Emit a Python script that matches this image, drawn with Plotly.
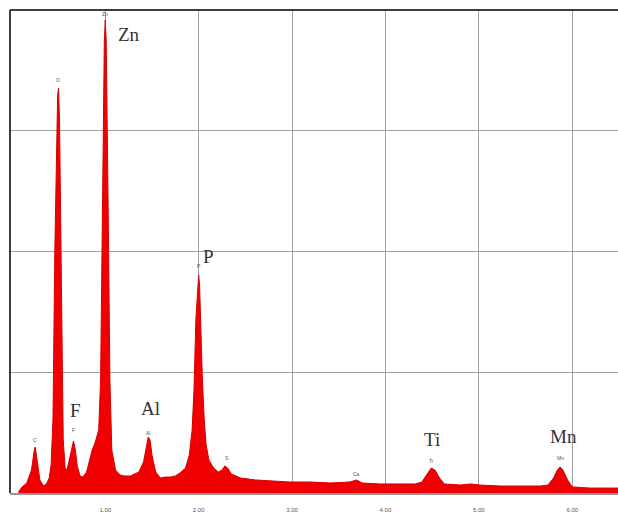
import plotly.graph_objects as go

# Spectrum outline (energy in keV, counts)
energy_kev = [0.07, 0.11, 0.16, 0.21, 0.24, 0.25, 0.27, 0.30, 0.34, 0.37,
              0.40, 0.42, 0.44, 0.46, 0.49, 0.50, 0.51, 0.53, 0.55, 0.57,
              0.59, 0.61, 0.64, 0.66, 0.68, 0.70, 0.73, 0.76, 0.80, 0.83,
              0.86, 0.89, 0.93, 0.95, 0.97, 0.99, 1.00, 1.01, 1.03, 1.05,
              1.07, 1.11, 1.16, 1.21, 1.27, 1.32, 1.36, 1.41, 1.44, 1.46,
              1.48, 1.50, 1.54, 1.59, 1.64, 1.70, 1.75, 1.80, 1.86, 1.90,
              1.93, 1.95, 1.97, 1.99, 2.00, 2.01, 2.02, 2.04, 2.06, 2.08,
              2.11, 2.16, 2.21, 2.25, 2.28, 2.31, 2.35, 2.45, 2.61, 2.77,
              2.98, 3.19, 3.41, 3.62, 3.69, 3.75, 3.94, 4.16, 4.32, 4.39,
              4.45, 4.49, 4.53, 4.58, 4.63, 4.80, 4.91, 5.01, 5.23, 5.44,
              5.66, 5.74, 5.80, 5.84, 5.87, 5.90, 5.95, 6.00, 6.19, 6.41, 6.49]
counts = [10, 50, 83, 190, 356, 381, 273, 108, 58, 75,
          124, 232, 604, 2012, 3295, 3353, 3088, 1598, 439, 207,
          190, 257, 373, 431, 356, 224, 141, 132, 174, 257,
          356, 414, 522, 936, 2426, 3751, 3916, 3751, 2426, 936,
          356, 190, 149, 141, 141, 157, 174, 257, 397, 464,
          439, 315, 174, 124, 132, 132, 141, 166, 207, 315,
          522, 853, 1432, 1722, 1805, 1722, 1432, 936, 604, 397,
          273, 207, 174, 190, 224, 207, 157, 124, 108, 99,
          91, 91, 83, 91, 108, 83, 75, 75, 75, 91,
          157, 207, 190, 124, 75, 66, 75, 66, 58, 58,
          58, 66, 124, 190, 215, 190, 108, 50, 41, 41, 41]

# Element labels (big) and their positions
big_labels = ["Zn", "P", "F", "Al", "Ti", "Mn"]
big_x = [1.25, 2.10, 0.68, 1.48, 4.50, 5.91]
big_y = [3800, 1960, 680, 700, 445, 470]

# Small peak markers
small_labels = ["C", "O", "F", "Zn", "Al", "P", "S", "Ca", "Ti", "Mn"]
small_x = [0.25, 0.49, 0.66, 1.00, 1.46, 2.00, 2.30, 3.69, 4.49, 5.87]
small_y = [440, 3420, 520, 3970, 500, 1880, 290, 160, 265, 290]

tick_vals = [1, 2, 3, 4, 5, 6]
tick_text = ["1.00", "2.00", "3.00", "4.00", "5.00", "6.00"]
y_grid = [1000, 2000, 3000, 4000]

fig = go.Figure()
fig.add_trace(go.Scatter(
    x=energy_kev, y=counts, mode="lines", fill="tozeroy",
    line=dict(color="rgb(215,0,0)", width=1),
    fillcolor="rgb(240,0,0)", hoverinfo="skip", showlegend=False))

for t, x, y in zip(big_labels, big_x, big_y):
    fig.add_annotation(x=x, y=y, text=t, showarrow=False,
                       font=dict(family="Liberation Serif", size=19, color="#333333"))
for t, x, y in zip(small_labels, small_x, small_y):
    fig.add_annotation(x=x, y=y, text=t, showarrow=False,
                       font=dict(family="Liberation Sans", size=5, color="#555555"))

# borders left and top
fig.add_shape(type="line", xref="paper", yref="paper", x0=0, x1=0, y0=0, y1=1,
              line=dict(color="black", width=1.5))
fig.add_shape(type="line", xref="paper", yref="paper", x0=0, x1=1, y0=1, y1=1,
              line=dict(color="black", width=1.5))

fig.update_layout(
    width=618, height=521,
    margin=dict(l=10, r=0, t=10, b=28),
    paper_bgcolor="white", plot_bgcolor="white",
    xaxis=dict(range=[-0.02, 6.49], tickvals=tick_vals, ticktext=tick_text,
               showgrid=True, gridcolor="rgb(160,160,160)", gridwidth=1.3,
               zeroline=False, showline=True, linecolor="rgb(150,150,150)", linewidth=1.5,
               ticks="", ticklabelstandoff=10, automargin=False,
               tickfont=dict(family="Liberation Sans", size=6, color="#555555")),
    yaxis=dict(range=[0, 4000], tickvals=y_grid, showticklabels=False,
               showgrid=True, gridcolor="rgb(160,160,160)", gridwidth=1.3,
               zeroline=False, showline=False, ticks="", automargin=False),
)

fig.write_html("out.html", config={"displayModeBar": False},
               post_script="document.body.style.margin='0';document.body.style.overflow='hidden';")
